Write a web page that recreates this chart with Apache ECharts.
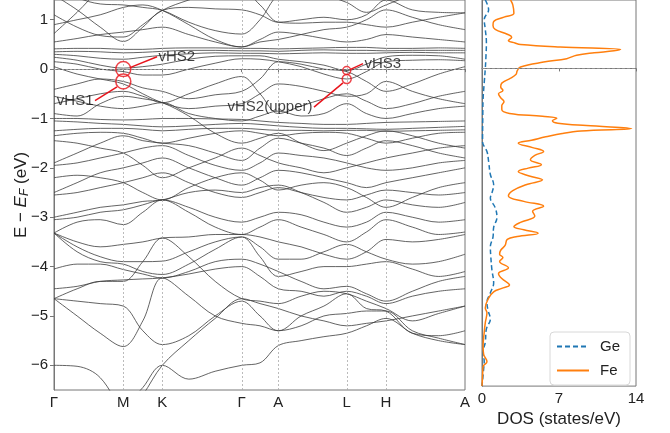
<!DOCTYPE html>
<html>
<head>
    <meta charset="utf-8">
    <style>
        html, body { width: 100%; height: 100%; margin: 0; background: #fff; }
        #chart-panel { width: 670px; height: 433px; }
    </style>
    <script src="https://cdn.jsdelivr.net/npm/echarts@6/dist/echarts.min.js"></script>
</head>
<body>
<div id="chart-panel"></div>
<script type="text/javascript">

  // k-path (high-symmetry points) and sampled k positions
  var kLabels = ['Γ', 'M', 'K', 'Γ', 'A', 'L', 'H', 'A'];
  var kNodes = [0, 0.693, 1.083, 1.877, 2.243, 2.927, 3.32, 4.11];
  var kSamples = [0, 0.231, 0.462, 0.693, 0.888, 1.083, 1.348, 1.612, 1.877, 2.06, 2.243,
                  2.471, 2.699, 2.927, 3.124, 3.32, 3.583, 3.847, 4.11];
  var eTicks = [-6, -5, -4, -3, -2, -1, 0, 1];
  var dosTicks = [0, 7, 14];

  // band energies (eV) at kSamples
  var bands = [
    [0.72, 1.15, 1.6, 1.8, 1.6, 1.5, 1.7, 1.9, 2.0, 1.9, 1.7, 1.6, 1.5, 1.45, 1.5, 1.6, 1.7, 1.8, 1.8],
    [1.7, 1.45, 1.32, 1.3, 1.25, 1.19, 0.95, 0.78, 0.71, 1.0, 1.5, 1.6, 1.5, 1.35, 1.15, 1.3, 1.5, 1.6, 1.6],
    [1.5, 1.2, 0.85, 0.56, 0.85, 1.19, 1.25, 1.22, 1.2, 1.1, 0.95, 1.0, 1.05, 1.0, 1.1, 1.4, 1.2, 1.15, 1.14],
    [1.1, 0.85, 0.68, 0.65, 0.9, 1.19, 1.4, 1.55, 1.6, 1.3, 0.95, 0.93, 0.95, 0.95, 0.9, 0.85, 0.95, 1.05, 1.14],
    [0.55, 0.62, 0.7, 0.75, 0.8, 0.85, 0.7, 0.55, 0.45, 0.6, 0.75, 0.7, 0.62, 0.55, 0.6, 0.7, 0.65, 0.6, 0.55],
    [0.9, 1.0, 1.1, 1.25, 1.3, 1.19, 0.9, 0.6, 0.45, 0.55, 0.6, 0.7, 0.8, 0.85, 1.0, 1.2, 1.05, 0.9, 0.8],
    [0.41, 0.42, 0.42, 0.4, 0.4, 0.42, 0.43, 0.43, 0.42, 0.42, 0.41, 0.42, 0.43, 0.44, 0.44, 0.42, 0.42, 0.43, 0.42],
    [0.35, 0.36, 0.35, 0.33, 0.34, 0.36, 0.38, 0.38, 0.37, 0.37, 0.36, 0.38, 0.39, 0.38, 0.38, 0.37, 0.38, 0.38, 0.38],
    [0.3, 0.27, 0.22, 0.2, 0.24, 0.28, 0.31, 0.33, 0.32, 0.32, 0.31, 0.32, 0.33, 0.32, 0.32, 0.33, 0.34, 0.33, 0.33],
    [0.24, 0.18, 0.08, 0.02, 0.05, 0.1, 0.2, 0.26, 0.27, 0.27, 0.2, 0.15, 0.08, -0.03, 0.1, 0.25, 0.28, 0.27, 0.2],
    [0.15, 0.1, 0.0, -0.05, -0.12, -0.12, 0.0, 0.12, 0.21, 0.2, 0.15, 0.05, -0.1, -0.2, -0.05, 0.15, 0.18, 0.19, 0.17],
    [-0.41, -0.3, -0.2, -0.25, -0.38, -0.45, -0.6, -0.52, -0.45, -0.2, 0.15, 0.1, 0.0, -0.05, -0.25, -0.45, -0.3, -0.1, 0.05],
    [0.05, -0.1, -0.2, -0.3, -0.5, -0.68, -0.8, -0.75, -0.7, -0.5, -0.3, -0.35, -0.45, -0.55, -0.5, -0.25, -0.45, -0.6, -0.7],
    [-0.7, -0.6, -0.5, -0.45, -0.55, -0.68, -0.5, -0.3, -0.15, -0.5, -0.9, -0.75, -0.6, -0.5, -0.65, -0.8, -0.7, -0.55, -0.45],
    [-0.55, -0.65, -0.75, -0.8, -0.75, -0.68, -0.9, -1.0, -1.05, -0.95, -0.85, -0.95, -0.9, -0.7, -0.9, -1.0, -0.9, -0.8, -0.75],
    [-0.9, -0.95, -0.7, -0.55, -0.6, -0.68, -0.95, -1.3, -1.5, -1.4, -1.3, -1.5, -1.65, -1.5, -1.35, -1.25, -1.35, -1.5, -1.6],
    [-1.0, -1.0, -1.02, -1.03, -1.02, -1.0, -1.0, -1.01, -1.02, -1.05, -1.08, -1.1, -1.12, -1.12, -1.1, -1.08, -1.07, -1.06, -1.05],
    [-1.05, -1.07, -1.1, -1.12, -1.15, -1.17, -1.15, -1.12, -1.1, -1.12, -1.15, -1.18, -1.2, -1.2, -1.21, -1.22, -1.2, -1.18, -1.16],
    [-1.25, -1.22, -1.2, -1.2, -1.22, -1.25, -1.22, -1.2, -1.2, -1.22, -1.24, -1.24, -1.25, -1.24, -1.24, -1.26, -1.25, -1.24, -1.23],
    [-1.35, -1.3, -1.28, -1.3, -1.4, -1.5, -1.4, -1.3, -1.25, -1.3, -1.35, -1.3, -1.28, -1.3, -1.4, -1.5, -1.4, -1.3, -1.28],
    [-1.45, -1.5, -1.6, -1.7, -1.95, -2.2, -2.0, -1.8, -1.6, -1.75, -1.9, -2.0, -2.1, -2.0, -1.9, -1.8, -1.7, -1.6, -1.55],
    [-1.9, -1.7, -1.5, -1.35, -1.45, -1.5, -1.55, -1.7, -1.85, -1.6, -1.4, -1.5, -1.6, -1.75, -1.6, -1.45, -1.55, -1.7, -1.8],
    [-1.95, -1.9, -1.8, -1.7, -1.6, -1.55, -1.75, -1.95, -2.05, -1.9, -1.7, -1.75, -1.8, -1.9, -2.0, -2.05, -2.0, -1.9, -1.85],
    [-2.2, -2.15, -2.2, -2.3, -2.5, -2.65, -2.4, -2.2, -2.1, -2.25, -2.45, -2.35, -2.3, -2.4, -2.6, -2.8, -2.6, -2.4, -2.3],
    [-2.5, -2.3, -2.1, -2.0, -1.9, -1.8, -2.0, -2.2, -2.35, -2.2, -2.05, -2.1, -2.2, -2.3, -2.4, -2.3, -2.2, -2.1, -2.0],
    [-2.55, -2.5, -2.4, -2.3, -2.2, -2.1, -2.3, -2.5, -2.6, -2.5, -2.4, -2.5, -2.6, -2.65, -2.55, -2.45, -2.5, -2.55, -2.5],
    [-3.0, -2.9, -2.8, -2.75, -2.68, -2.65, -2.5, -2.45, -2.5, -2.4, -2.35, -2.5, -2.7, -2.9, -2.8, -2.65, -2.75, -2.8, -2.7],
    [-3.05, -3.0, -2.9, -2.85, -2.75, -2.65, -2.8, -3.0, -3.1, -3.0, -2.9, -2.95, -3.1, -3.2, -3.1, -2.9, -3.0, -3.1, -3.05],
    [-3.32, -3.1, -3.05, -3.15, -2.9, -2.65, -2.9, -3.2, -3.35, -3.2, -3.05, -3.2, -3.35, -3.5, -3.3, -3.05, -3.2, -3.35, -3.3],
    [-3.32, -3.5, -3.6, -3.55, -3.5, -3.42, -3.4, -3.35, -3.35, -3.4, -3.5, -3.6, -3.75, -3.85, -3.7, -3.45, -3.5, -3.45, -3.35],
    [-3.32, -3.6, -3.8, -3.9, -3.9, -3.89, -3.7, -3.5, -3.4, -3.6, -3.85, -3.85, -3.7, -3.55, -3.7, -3.85, -3.95, -3.9, -3.75],
    [-3.32, -3.7, -3.9, -3.95, -4.1, -4.16, -3.95, -3.65, -3.4, -3.8, -4.2, -4.1, -4.0, -4.0, -3.95, -3.9, -4.05, -4.2, -4.1],
    [-4.05, -3.95, -3.95, -4.06, -4.15, -4.23, -4.1, -3.9, -3.85, -3.95, -4.1, -4.3, -4.45, -4.4, -4.55, -4.7, -4.5, -4.3, -4.2],
    [-4.45, -4.4, -4.3, -4.27, -4.25, -4.23, -4.15, -4.05, -4.0, -4.2, -4.45, -4.5, -4.6, -4.5, -4.6, -4.75, -4.6, -4.5, -4.45],
    [-4.65, -4.45, -4.3, -4.3, -3.9, -3.42, -3.8, -4.3, -4.65, -4.7, -4.75, -4.6, -4.5, -4.55, -4.7, -4.85, -5.1, -4.95, -4.8],
    [-4.65, -5.0, -5.35, -5.62, -5.1, -4.23, -4.6, -5.0, -5.15, -5.2, -5.3, -5.0, -4.8, -4.55, -4.85, -4.9, -5.35, -5.4, -5.3],
    [-4.65, -4.7, -4.75, -4.8, -5.3, -5.58, -5.4, -5.0, -4.7, -5.0, -5.3, -5.2, -5.0, -4.95, -4.9, -4.9, -5.3, -5.45, -5.58],
    [-8, -8, -7.6, -7.1, -6.6, -6.0, -5.5, -5.05, -4.65, -4.75, -4.85, -5.0, -5.1, -5.2, -5.15, -5.1, -5.0, -4.9, -4.8],
    [-6.0, -6.02, -6.25, -7.0, -7.6, -8, -8, -8, -8, -8, -8, -8, -8, -8, -8, -8, -8, -8, -8],
    [-8, -8, -7.6, -6.9, -6.45, -6.0, -6.28, -6.12, -6.0, -5.95, -5.6, -5.5, -5.42, -5.35, -5.2, -5.05, -5.35, -5.5, -5.58]
  ];

  // projected DOS (states/eV) vs energy (eV)
  var feEnergy = [1.4, 1.3, 1.13, 1.05, 0.96, 0.88, 0.8, 0.7, 0.64, 0.57, 0.52, 0.49, 0.44, 0.39, 0.36, 0.32, 0.27, 0.2, 0.13, 0.03,
                  -0.05, -0.12, -0.2, -0.3, -0.38, -0.45, -0.52, -0.6, -0.68, -0.76, -0.84, -0.92, -0.98, -1.02, -1.07, -1.12, -1.17, -1.23, -1.28, -1.33,
                  -1.4, -1.47, -1.53, -1.62, -1.7, -1.78, -1.87, -1.97, -2.04, -2.11, -2.2, -2.28, -2.38, -2.5, -2.61, -2.72, -2.82, -2.92, -3.02, -3.15,
                  -3.24, -3.3, -3.37, -3.44, -3.5, -3.62, -3.72, -3.8, -3.87, -3.95, -4.08, -4.2, -4.3, -4.43, -4.5, -4.57, -4.7, -4.9, -5.0, -5.2,
                  -5.4, -5.68, -5.85, -6.0, -6.1, -6.3, -6.5];
  var feDos = [2.6, 2.8, 2.9, 2.0, 1.06, 1.0, 1.2, 2.3, 2.7, 2.4, 3.0, 3.5, 7.1, 12.6, 12.0, 10.2, 8.6, 7.7, 5.6, 3.5,
               3.2, 3.1, 2.6, 1.8, 1.7, 1.9, 1.5, 1.7, 2.0, 1.8, 1.8, 2.5, 5.5, 6.8, 6.4, 6.9, 9.5, 13.6, 9.0, 7.3,
               5.8, 4.5, 3.3, 4.6, 5.6, 4.8, 4.4, 5.4, 4.2, 3.3, 4.3, 5.5, 4.0, 2.8, 2.4, 3.8, 5.6, 4.6, 4.8, 3.5,
               2.9, 3.8, 5.1, 3.2, 2.3, 2.1, 1.7, 1.6, 1.9, 1.6, 2.4, 1.5, 1.8, 2.5, 1.8, 1.06, 0.6, 0.3, 0.45, 0.3,
               0.2, 0.1, 0.15, 0.45, 0.1, 0.05, 0.0];
  var geEnergy = [1.4, 1.2, 1.0, 0.8, 0.53, 0.2, 0.0, -0.3, -0.62, -1.0, -1.5, -1.7, -1.9, -2.17, -2.38, -2.55, -2.65, -2.85,
                  -3.05, -3.25, -3.45, -3.65, -3.85, -4.12, -4.39, -4.59, -4.79, -4.95, -5.13, -5.33, -5.6, -5.8, -6.0, -6.15, -6.5];
  var geDos = [0.3, 0.6, 0.2, 0.3, 0.4, 0.35, 0.3, 0.2, 0.1, 0.07, 0.05, 0.45, 0.6, 0.76, 1.06, 0.9, 0.76, 1.2,
               1.36, 1.06, 1.0, 0.76, 0.8, 0.9, 1.06, 0.76, 0.45, 0.55, 0.76, 0.4, 0.3, 0.1, 0.2, 0.15, 0.0];

  // van Hove singularities marked with red circles
  var vhsNames = ['vHS2', 'vHS1', 'vHS3', 'vHS2(upper)'];
  var vhsK = [0.693, 0.693, 2.927, 2.927];
  var vhsE = [0.0, -0.25, -0.03, -0.2];

  // leader lines: from circle edge to label anchor (k, E), label side
  var leaders = [
    {from: [0.76, 0.03], to: [1.03, 0.25], side: 'right'},
    {from: [0.63, -0.36], to: [0.41, -0.64], side: 'left'},
    {from: [2.96, -0.01], to: [3.09, 0.11], side: 'right'},
    {from: [2.89, -0.28], to: [2.60, -0.77], side: 'left'}
  ];
  var circleSizes = [15, 15, 8, 9];

  var myChart = echarts.init(document.getElementById('chart-panel'));
  var FONT = 'Liberation Sans, Arial, sans-serif';
  var frame = '#777';

  function nearestLabel(v) {
    var best = 0;
    for (var i = 1; i < kNodes.length; i++) {
      if (Math.abs(kNodes[i] - v) < Math.abs(kNodes[best] - v)) best = i;
    }
    return kLabels[best];
  }

  var series = [];
  bands.forEach(function (b, bi) {
    var s = {
      type: 'line',
      xAxisIndex: 0, yAxisIndex: 0,
      data: kSamples.map(function (k, i) { return [k, b[i]]; }),
      smooth: 0.35,
      symbol: 'none',
      silent: true,
      clip: true,
      lineStyle: {color: '#3c3c3c', width: 0.8},
      z: 2
    };
    if (bi === 0) {
      s.markLine = {
        silent: true,
        symbol: ['none', 'none'],
        label: {show: false},
        lineStyle: {color: '#aaa', type: [2, 2], width: 0.8},
        data: kNodes.slice(1, -1).map(function (k) { return {xAxis: k}; }).concat([{yAxis: 0}])
      };
    }
    series.push(s);
  });

  series.push({
    name: 'Ge', type: 'line', xAxisIndex: 1, yAxisIndex: 1,
    data: geEnergy.map(function (e, i) { return [geDos[i], e]; }),
    smooth: 0.4, symbol: 'none', silent: true,
    lineStyle: {color: '#1f77b4', width: 1.5, type: [5, 3]},
    itemStyle: {color: '#1f77b4'}
  });
  series.push({
    name: 'Fe', type: 'line', xAxisIndex: 1, yAxisIndex: 1,
    data: feEnergy.map(function (e, i) { return [feDos[i], e]; }),
    smooth: 0.4, symbol: 'none', silent: true,
    lineStyle: {color: '#ff7f0e', width: 1.5},
    itemStyle: {color: '#ff7f0e'},
    markLine: {
      silent: true, symbol: ['none', 'none'], label: {show: false},
      lineStyle: {color: '#999', type: [3, 2], width: 0.8},
      data: [{yAxis: 0}]
    }
  });

  // red circles
  series.push({
    type: 'scatter', xAxisIndex: 0, yAxisIndex: 0,
    data: vhsK.map(function (k, i) { return {value: [k, vhsE[i]], symbolSize: circleSizes[i]}; }),
    symbol: 'circle', silent: true, z: 10,
    itemStyle: {color: 'rgba(0,0,0,0)', borderColor: '#e8141c', borderWidth: 1.5}
  });

  // leader lines
  leaders.forEach(function (l) {
    series.push({
      type: 'line', xAxisIndex: 0, yAxisIndex: 0,
      data: [l.from, l.to],
      symbol: 'none', silent: true, z: 11,
      lineStyle: {color: '#e8141c', width: 1.5}
    });
  });
  // annotation texts at the leader ends
  series.push({
    type: 'scatter', xAxisIndex: 0, yAxisIndex: 0,
    symbolSize: 1, silent: true, z: 12,
    itemStyle: {color: 'rgba(0,0,0,0)'},
    data: leaders.map(function (l, i) {
      return {
        value: l.to,
        label: {
          show: true, position: l.side, distance: 1,
          formatter: vhsNames[i], color: '#111', fontSize: 15, fontFamily: FONT
        }
      };
    })
  });

  var option = {
    animation: false,
    backgroundColor: '#fff',
    textStyle: {fontFamily: FONT},
    grid: [
      {left: 54, top: -1, width: 411, height: 391, show: true, borderColor: frame, borderWidth: 1, backgroundColor: 'transparent'},
      {left: 482, top: -1, width: 154, height: 391, show: true, borderColor: frame, borderWidth: 1, backgroundColor: 'transparent'}
    ],
    legend: {
      data: ['Ge', 'Fe'],
      orient: 'vertical',
      left: 550, top: 332,
      itemWidth: 32, itemHeight: 10, itemGap: 9,
      padding: [7, 10, 7, 6],
      backgroundColor: '#fff',
      borderColor: '#d8d8d8', borderWidth: 1, borderRadius: 4,
      itemStyle: {opacity: 0},
      textStyle: {fontSize: 15, color: '#222', fontFamily: FONT, padding: [0, 0, 0, 6]}
    },
    xAxis: [
      {
        type: 'value', gridIndex: 0, min: 0, max: 4.11,
        splitLine: {show: false},
        axisLine: {show: true, lineStyle: {color: frame}},
        axisTick: {show: true, customValues: kNodes, length: 3, lineStyle: {color: frame}},
        axisLabel: {customValues: kNodes, formatter: function (v) { return nearestLabel(v); },
                    fontSize: 15, color: '#222', margin: 5}
      },
      {
        type: 'value', gridIndex: 1, min: 0, max: 14, interval: 7,
        splitLine: {show: false},
        axisLine: {show: true, lineStyle: {color: frame}},
        axisTick: {show: true, customValues: dosTicks, length: 3, lineStyle: {color: frame}},
        axisLabel: {customValues: dosTicks, fontSize: 15, color: '#222', margin: 5},
        name: 'DOS (states/eV)', nameLocation: 'middle', nameGap: 20,
        nameTextStyle: {fontSize: 17, color: '#222'}
      }
    ],
    yAxis: [
      {
        type: 'value', gridIndex: 0, min: -6.5, max: 1.4,
        splitLine: {show: false},
        axisLine: {show: true, lineStyle: {color: frame}},
        axisTick: {show: true, customValues: eTicks, length: 4, lineStyle: {color: frame}},
        axisLabel: {customValues: eTicks, fontSize: 15, color: '#222', margin: 6,
                    formatter: function (v) { return String(v).replace('-', '\u2212'); }},
        name: '{a|E \u2212 }{b|E}{c|F}{a| (eV)}',
        nameLocation: 'middle', nameGap: 23, nameMoveOverlap: false,
        nameTextStyle: {
          rich: {
            a: {fontSize: 17, color: '#222', fontFamily: FONT},
            b: {fontSize: 17, color: '#222', fontStyle: 'italic', fontFamily: FONT},
            c: {fontSize: 12, color: '#222', fontStyle: 'italic', fontFamily: FONT, padding: [8, 0, 0, 0]}
          }
        }
      },
      {
        type: 'value', gridIndex: 1, min: -6.5, max: 1.4,
        splitLine: {show: false},
        axisLine: {show: true, lineStyle: {color: frame}},
        axisTick: {show: false},
        axisLabel: {show: false}
      }
    ],
    series: series
  };

  myChart.setOption(option);
</script>
</body>
</html>
